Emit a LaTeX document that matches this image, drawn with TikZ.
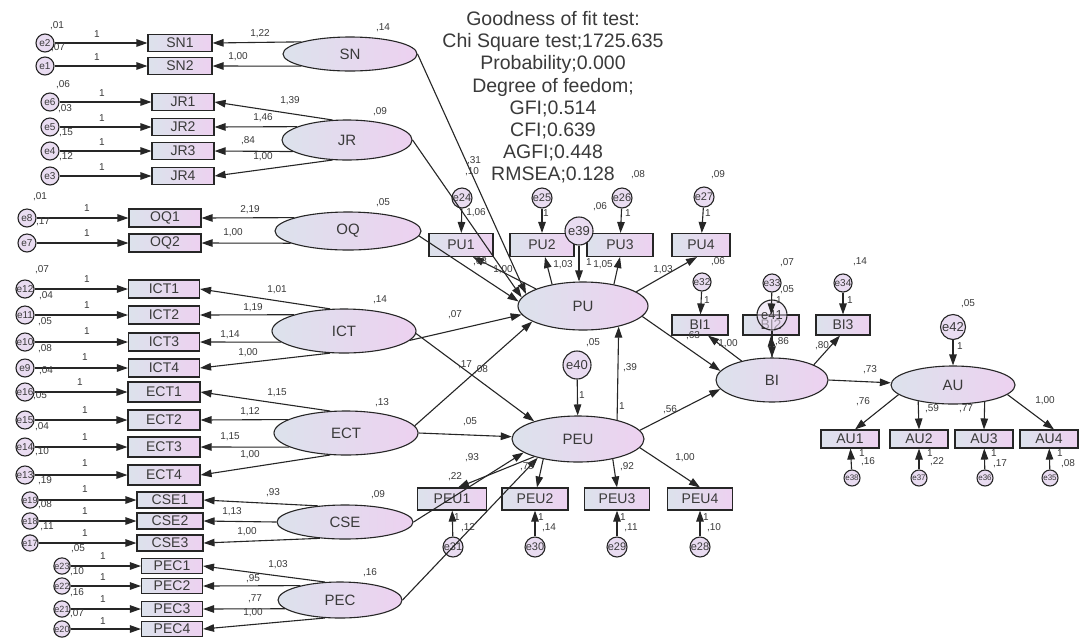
\documentclass[tikz,border=0pt]{standalone}
\usepackage{fontspec}
\setmainfont{Liberation Sans}
\usetikzlibrary{shapes.geometric,arrows.meta}
\definecolor{bl}{HTML}{DCE2EC}
\definecolor{pk}{HTML}{EDD1F0}
\definecolor{ln}{HTML}{262626}
\definecolor{tx}{HTML}{3A3A3A}
\definecolor{ec}{HTML}{E9DCF1}
\begin{document}
\begin{tikzpicture}[x=1pt,y=-1pt,
  ind/.style={draw=ln,line width=1.1pt,left color=bl,right color=pk,inner sep=0pt,minimum height=18pt,text=tx,font=\fontsize{14}{14}\selectfont},
  lat/.style={ellipse,draw=ln,line width=1.1pt,left color=bl,right color=pk,inner sep=0pt,text=tx,font=\fontsize{15}{15}\selectfont},
  err/.style={circle,draw=ln,line width=1.1pt,fill=ec,inner sep=0pt,minimum size=18pt,text=tx,font=\fontsize{10}{10}\selectfont},
  serr/.style={err,minimum size=16pt,font=\fontsize{9}{9}\selectfont},
  merr/.style={err,minimum size=20pt,font=\fontsize{11}{11}\selectfont},
  bigerr/.style={err,minimum size=28pt,font=\fontsize{13}{13}\selectfont},
  lab/.style={text=tx,inner sep=0pt,font=\fontsize{10}{10}\selectfont},
  arr/.style={draw=ln,line width=1.1pt,-{Triangle[length=11pt,width=7.5pt]}},
  ttl/.style={text=tx,inner sep=0pt,anchor=base,font=\fontsize{19.5}{22}\selectfont}
]
\useasboundingbox (0,0) rectangle (1083,641);
\fill[white] (0,0) rectangle (1083,641);

% title block
\node[ttl] (t1) at (553,25) {Goodness of fit test:};
\node[ttl] (t2) at (553,47) {Chi Square test;1725.635};
\node[ttl] (t3) at (553,69.5) {Probability;0.000};
\node[ttl] (t4) at (553,92) {Degree of feedom;};
\node[ttl] (t5) at (553,114) {GFI;0.514};
\node[ttl] (t6) at (553,136) {CFI;0.639};
\node[ttl] (t7) at (553,158) {AGFI;0.448};
\node[ttl] (t8) at (553,180) {RMSEA;0.128};

% left indicators
\foreach \n/\y in {SN1/43,SN2/66} \node[ind,minimum width=64pt,minimum height=17pt] (\n) at (180,\y) {\n};
\foreach \n/\y in {JR1/102,JR2/127,JR3/151,JR4/176} \node[ind,minimum width=62pt,minimum height=17pt] (\n) at (183,\y) {\n};
\foreach \n/\y in {OQ1/218,OQ2/243} \node[ind,minimum width=72pt] (\n) at (165,\y) {\n};
\foreach \n/\y in {ICT1/289,ICT2/315,ICT3/342,ICT4/368} \node[ind,minimum width=71pt] (\n) at (164,\y) {\n};
\foreach \n/\y in {ECT1/392,ECT2/420,ECT3/447,ECT4/475} \node[ind,minimum width=72pt,minimum height=20pt] (\n) at (164,\y) {\n};
\foreach \n/\y in {CSE1/500,CSE2/521,CSE3/543} \node[ind,minimum width=66pt,minimum height=16pt] (\n) at (170,\y) {\n};
\foreach \n/\y in {PEC1/566,PEC2/586,PEC3/609,PEC4/629} \node[ind,minimum width=61pt,minimum height=15pt] (\n) at (172,\y) {\n};

% left error terms
\foreach \e/\b/\x/\y in {e2/SN1/45/43,e1/SN2/45/66,e6/JR1/50/102,e5/JR2/50/127,e4/JR3/50/151,e3/JR4/50/176,e8/OQ1/27/218,e7/OQ2/27/243,e12/ICT1/25/289,e11/ICT2/25/315,e10/ICT3/25/342,e9/ICT4/25/368,e16/ECT1/25/392,e15/ECT2/25/420,e14/ECT3/25/447,e13/ECT4/25/475}
  {\node[err] (\e) at (\x,\y) {\e}; \draw[arr] (\e) -- (\b);}
\foreach \e/\b/\x/\y in {e19/CSE1/30/500,e18/CSE2/30/521,e17/CSE3/30/543,e23/PEC1/62/566,e22/PEC2/62/586,e21/PEC3/62/609,e20/PEC4/62/629}
  {\node[serr] (\e) at (\x,\y) {\e}; \draw[arr] (\e) -- (\b);}

% left latents
\node[lat,minimum width=134pt,minimum height=34pt] (SN) at (350,54) {SN};
\node[lat,minimum width=130pt,minimum height=40pt] (JR) at (347,140) {JR};
\node[lat,minimum width=146pt,minimum height=38pt] (OQ) at (348,231) {OQ};
\node[lat,minimum width=144pt,minimum height=44pt] (ICT) at (344,331) {ICT};
\node[lat,minimum width=144pt,minimum height=44pt] (ECT) at (346,433) {ECT};
\node[lat,minimum width=136pt,minimum height=34pt] (CSE) at (345,522) {CSE};
\node[lat,minimum width=124pt,minimum height=36pt] (PEC) at (340,600) {PEC};

% loadings left
\draw[arr] (SN.166) -- (SN1.east); \draw[arr] (SN.194) -- (SN2.east);
\draw[arr] (JR.126) -- (JR1.east); \draw[arr] (JR.165) -- (JR2.east);
\draw[arr] (JR.192) -- (JR3.east); \draw[arr] (JR.234) -- (JR4.east);
\draw[arr] (OQ.166) -- (OQ1.east); \draw[arr] (OQ.192) -- (OQ2.east);
\draw[arr] (ICT.122) -- (ICT1.east); \draw[arr] (ICT.162) -- (ICT2.east);
\draw[arr] (ICT.190) -- (ICT3.east); \draw[arr] (ICT.238) -- (ICT4.east);
\draw[arr] (ECT.126) -- (ECT1.east); \draw[arr] (ECT.167) -- (ECT2.east);
\draw[arr] (ECT.194) -- (ECT3.east); \draw[arr] (ECT.234) -- (ECT4.east);
\draw[arr] (CSE.149) -- (CSE1.east); \draw[arr] (CSE.180) -- (CSE2.east);
\draw[arr] (CSE.213) -- (CSE3.east);
\draw[arr] (PEC.130) -- (PEC1.east); \draw[arr] (PEC.160) -- (PEC2.east);
\draw[arr] (PEC.189) -- (PEC3.east); \draw[arr] (PEC.230) -- (PEC4.east);

% right nodes
\node[ind,minimum width=64pt,minimum height=23pt] (PU1) at (461,245) {PU1};
\node[ind,minimum width=64pt,minimum height=23pt] (PU2) at (542,245) {PU2};
\node[ind,minimum width=66pt,minimum height=23pt] (PU3) at (620,245) {PU3};
\node[ind,minimum width=58pt,minimum height=23pt] (PU4) at (701,245) {PU4};
\node[merr] (e24) at (462,198) {e24};
\node[merr] (e25) at (542,198) {e25};
\node[merr] (e26) at (622,198) {e26};
\node[merr] (e27) at (704,197) {e27};
\node[lat,minimum width=130pt,minimum height=48pt] (PU) at (583,306) {PU};
\node[bigerr] (e39) at (579,231) {e39};

\node[ind,minimum width=56pt,minimum height=20pt] (BI1) at (700,325) {BI1};
\node[ind,minimum width=56pt,minimum height=20pt] (BI2) at (771,325) {BI2};
\node[ind,minimum width=54pt,minimum height=20pt] (BI3) at (843,325) {BI3};
\node[err] (e32) at (702,282) {e32};
\node[err] (e33) at (772,283) {e33};
\node[err] (e34) at (843,283) {e34};
\node[lat,minimum width=112pt,minimum height=44pt] (BI) at (772,380) {BI};
\node[bigerr,minimum size=30pt,fill opacity=0.55,text opacity=1] (e41) at (772,315) {e41};

\node[lat,minimum width=124pt,minimum height=38pt] (AU) at (953,385) {AU};
\node[bigerr,minimum size=25pt] (e42) at (953,327) {e42};
\foreach \n/\x in {AU1/850,AU2/919,AU3/984,AU4/1049} \node[ind,minimum width=58pt,minimum height=18pt] (\n) at (\x,439) {\n};
\foreach \e/\b/\x in {e38/AU1/852,e37/AU2/919,e36/AU3/985,e35/AU4/1050}
  {\node[serr,font=\fontsize{8}{8}\selectfont] (\e) at (\x,478) {\e}; \draw[arr] (\e) -- (\b);}

\node[lat,minimum width=132pt,minimum height=46pt] (PEU) at (578,439) {PEU};
\node[bigerr] (e40) at (577,365) {e40};
\node[ind,minimum width=69pt,minimum height=22pt] (PEU1) at (452,499) {PEU1};
\node[ind,minimum width=66pt,minimum height=22pt] (PEU2) at (535,499) {PEU2};
\node[ind,minimum width=65pt,minimum height=22pt] (PEU3) at (617,499) {PEU3};
\node[ind,minimum width=65pt,minimum height=22pt] (PEU4) at (700,499) {PEU4};
\foreach \e/\b/\x in {e31/PEU1/453,e30/PEU2/535,e29/PEU3/617,e28/PEU4/700}
  {\node[merr] (\e) at (\x,547) {\e}; \draw[arr] (\e) -- (\b);}

% structural paths
\draw[arr] (SN.east) -- (PU.168);
\draw[arr] (JR.east) -- (PU.172);
\draw[arr] (OQ.356) -- (PU.176);
\draw[arr] (ICT.352) -- (PU.188);
\draw[arr] (ECT.6) -- (PU.197);
\draw[arr] (ICT.358) -- (PEU.158);
\draw[arr] (ECT.0) -- (PEU.178);
\draw[arr] (CSE.east) -- (PEU.194);
\draw[arr] (PEC.east) -- (PEU.205);
\draw[arr] (PEU.26) -- (PU.330);
\draw[arr] (PU.350) -- (BI.170);
\draw[arr] (PEU.8) -- (BI.190);
\draw[arr] (BI.east) -- (AU.178);

% PU measurement
\draw[arr] (PU.160) -- ([xshift=12pt]PU1.south);
\draw[arr] (PU.145) -- ([xshift=3pt]PU2.south);
\draw[arr] (PU.35) -- (PU3.south);
\draw[arr] (PU.15) -- ([xshift=-4pt]PU4.south);
\draw[arr] (e24) -- (PU1);
\draw[arr] (e25) -- (PU2);
\draw[arr] (e26) -- (PU3);
\draw[arr] (e27) -- (PU4);
\draw[arr] (e39.south) -- (e39.south |- PU.north);

% BI measurement
\draw[arr] (BI.148) -- ([xshift=8pt]BI1.south);
\draw[arr] (BI.north) -- (BI2.south);
\draw[arr] (BI.20) -- ([xshift=-3pt]BI3.south);
\draw[arr] (e32) -- (BI1);
\draw[arr] (e33) -- (BI2);
\draw[arr] (e34) -- (BI3);
\draw[arr] (e41) -- (BI);

% AU measurement
\draw[arr] (e42) -- (AU);
\draw[arr] (AU.190) -- ([xshift=5pt]AU1.north);
\draw[arr] (AU.205) -- (AU2.north);
\draw[arr] (AU.332) -- (AU3.north);
\draw[arr] (AU.350) -- ([xshift=5pt]AU4.north);

% PEU measurement
\draw[arr] (e40) -- (PEU);
\draw[arr] (PEU.202) -- ([xshift=6pt]PEU1.north);
\draw[arr] (PEU.210) -- ([xshift=2pt]PEU2.north);
\draw[arr] (PEU.330) -- (PEU3.north);
\draw[arr] (PEU.352) -- (PEU4.north);

% left labels: "1"
\foreach \x/\y [count=\i] in {97/34,97/57,102/93,102/118,102/142,102/167,87/208,87/233,87/279,87/305,87/331,85/357,80/382,85/410,85/437,85/463,85/489,85/511,85/533,103/556,103/577,103/599,103/621}
  \node[lab] (lo\i) at (\x,\y) {1};
% left variance labels
\foreach \x/\y/\t [count=\i] in {57/26/{,01},58/48/{,07},63/85/{,06},65/109/{,03},66/133/{,15},66/157/{,12},40/197/{,01},43/222/{,17},42/270/{,07},46/296/{,04},45/322/{,05},45/349/{,08},46/371/{,04},40/396/{,05},42/427/{,04},42/452/{,10},45/481/{,19},45/505/{,08},47/527/{,11},78/549/{,05},77/572/{,10},77/593/{,16},77/614/{,07}}
  \node[lab] (lv\i) at (\x,\y) {\t};
% left loadings and latent variances
\foreach \x/\y/\t [count=\i] in {260/34/{1,22},238/57/{1,00},290/101/{1,39},263/118/{1,46},248/141/{,84},263/157/{1,00},250/210/{2,19},233/233/{1,00},277/290/{1,01},253/308/{1,19},230/335/{1,14},248/353/{1,00},277/393/{1,15},250/412/{1,12},230/437/{1,15},250/455/{1,00},273/493/{,93},232/512/{1,13},247/532/{1,00},278/565/{1,03},253/579/{,95},255/599/{,77},253/613/{1,00},383/28/{,14},380/112/{,09},383/203/{,05},380/300/{,14},382/403/{,13},378/495/{,09},370/573/{,16}}
  \node[lab] (ll\i) at (\x,\y) {\t};
% right labels
\foreach \x/\y/\t [count=\i] in {474/161/{,31},472/172/{,10},476/213/{1,06},480/262/{,68},503/270/{1,00},546/213/{1},563/265/{1,03},600/207/{,06},589/262/{1},603/265/{1,05},628/213/{1},638/175/{,08},718/175/{,09},708/213/{1},663/270/{1,03},718/262/{,06},707/300/{1},787/263/{,07},787/290/{,05},779/300/{1},860/262/{,14},850/300/{1},693/336/{,63},728/344/{1,00},782/342/{,86},822/346/{,80},870/370/{,73},968/304/{,05},960/346/{1},863/402/{,76},932/409/{,59},966/409/{,77},1045/401/{1,00},862/453/{1},868/462/{,16},930/453/{1},937/462/{,22},994/453/{1},1000/464/{,17},1060/453/{1},1068/464/{,08},593/343/{,05},582/395/{1},630/368/{,39},622/406/{1},670/410/{,56},470/422/{,05},472/458/{,93},455/477/{,22},527/467/{,79},627/467/{,92},685/458/{1,00},457/517/{1},468/528/{,12},541/517/{1},549/528/{,14},623/517/{1},631/528/{,11},706/517/{1},714/528/{,10},465/365/{,17},481/370/{,08},455/315/{,07}}
  \node[lab] (lr\i) at (\x,\y) {\t};
\end{tikzpicture}
\end{document}
